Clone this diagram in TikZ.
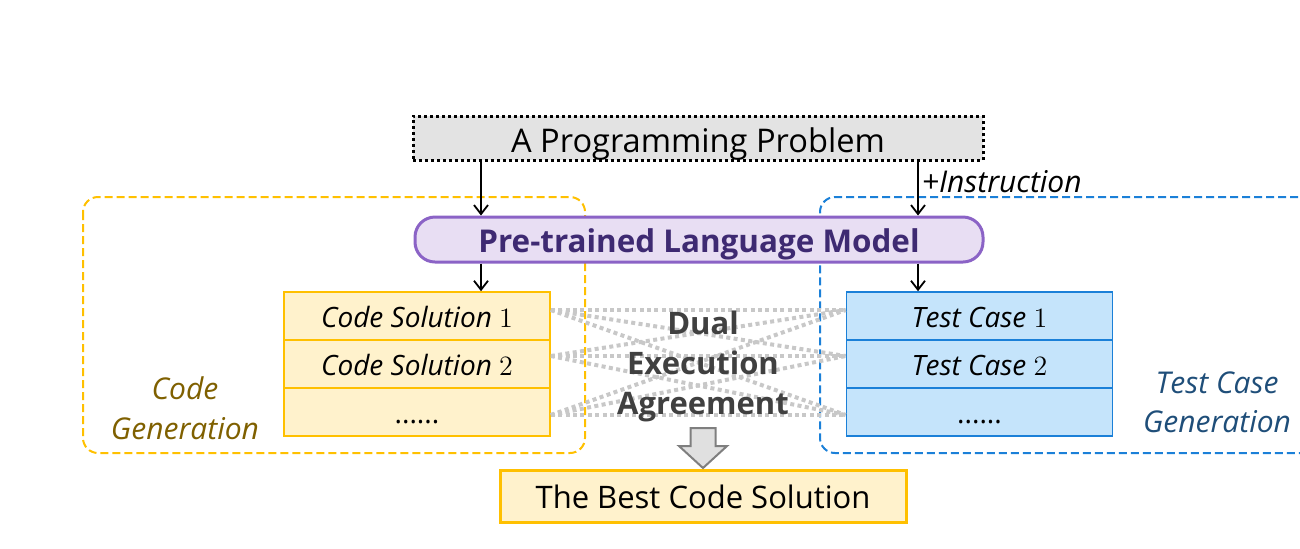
\documentclass[tikz,border=0pt]{standalone}
\usepackage{fontspec}
\setmainfont{Open Sans}
\newfontfamily\numfont{Latin Modern Roman}
\usetikzlibrary{arrows.meta}
\definecolor{probF}{HTML}{E3E3E3}
\definecolor{lmF}{HTML}{E8DEF3}
\definecolor{lmB}{HTML}{8B63C6}
\definecolor{lmT}{HTML}{3E2A72}
\definecolor{codeF}{HTML}{FFF2CC}
\definecolor{codeB}{HTML}{FFC000}
\definecolor{testF}{HTML}{C5E4FB}
\definecolor{testB}{HTML}{1B80D8}
\definecolor{cgT}{HTML}{7F6000}
\definecolor{tgT}{HTML}{1F4E79}
\definecolor{dualT}{HTML}{404040}
\definecolor{dotG}{HTML}{C8C8C8}
\definecolor{barB}{HTML}{7F7F7F}
\definecolor{barF}{HTML}{E0E0E0}
\newcommand{\dg}[1]{{\numfont\upshape #1}}
\begin{document}
\begin{tikzpicture}[x=0.5pt,y=-0.5pt,
  arr/.style={-{Straight Barb[length=4.5pt,width=7pt]}, line width=0.9pt},
  rowbox/.style={line width=0.8pt, minimum width=133pt, minimum height=24pt, inner sep=0pt,
     text height=11pt, text depth=0pt, font=\fontsize{14}{16}\selectfont},
  coderow/.style={rowbox, draw=codeB, fill=codeF},
  testrow/.style={rowbox, draw=testB, fill=testF},
  agreeline/.style={draw=dotG, line width=2pt, dash pattern=on 2pt off 1.7pt},
  region/.style={line width=1pt, dash pattern=on 4pt off 2pt, rounded corners=7.5pt}
]
\useasboundingbox (0,0) rectangle (1300,548);

% regions
\draw[region, draw=codeB] (83,197) rectangle (585,453);
\draw[region, draw=testB] (1310,197) -- (820,197) -- (820,453) -- (1310,453);

% problem
\node[draw=black, fill=probF, line width=1.5pt, dash pattern=on 1.5pt off 1.5pt,
      minimum width=285pt, minimum height=22pt, inner sep=0pt, text height=14pt, text depth=0pt,
      font=\fontsize{16.3}{20}\selectfont] (prob) at (698,138) {A Programming Problem};

% language model
\node[draw=lmB, fill=lmF, line width=1.5pt, rounded corners=10pt,
      minimum width=284pt, minimum height=22.5pt, inner sep=0pt, text height=12.5pt, text depth=0pt,
      text=lmT, font=\fontsize{15.7}{18}\selectfont\bfseries] (lm) at (699,239.5) {Pre-trained Language Model};

% code solutions
\node[coderow] (c1) at (417,316) {\itshape Code Solution \dg{1}};
\node[coderow] (c2) at (417,364) {\itshape Code Solution \dg{2}};
\node[coderow] (c3) at (417,412) {......};

% test cases
\node[testrow] (t1) at (979.5,316) {\itshape Test Case \dg{1}};
\node[testrow] (t2) at (979.5,364) {\itshape Test Case \dg{2}};
\node[testrow] (t3) at (979.5,412) {......};

% column coordinates
\coordinate (ax) at (481,0);
\coordinate (bx) at (918,0);

\draw[arr] (prob.south -| ax) -- (lm.north -| ax);
\draw[arr] (prob.south -| bx) -- node[pos=0.38, anchor=west, inner sep=1.5pt, font=\fontsize{15}{18}\selectfont\itshape] {+Instruction} (lm.north -| bx);
\draw[arr] (lm.south -| ax) -- (c1.north -| ax);
\draw[arr] (lm.south -| bx) -- (t1.north -| bx);

% agreement lines
\foreach \i/\si in {1/3pt,2/4pt,3/-1.5pt}{
  \foreach \j/\sj in {1/3pt,2/4pt,3/-1.5pt}{
    \draw[agreeline] ([yshift=\si]c\i.east) -- ([yshift=\sj]t\j.west);
  }
}

% labels
\node[align=center, text=dualT, font=\fontsize{15.5}{20}\selectfont\bfseries] (dual) at (703,366) {Dual\\Execution\\Agreement};
\node[align=center, text=cgT, font=\fontsize{15}{20}\selectfont\itshape] (cg) at (185,408) {Code\\Generation};
\node[align=center, text=tgT, font=\fontsize{15}{19.5}\selectfont\itshape] (tg) at (1217,402) {Test Case\\Generation};

% best
\node[draw=codeB, fill=codeF, line width=1.5pt, minimum width=203pt, minimum height=26pt, inner sep=0pt,
      text height=12pt, text depth=0pt,
      font=\fontsize{15.5}{18}\selectfont] (best) at (703,496) {The Best Code Solution};

% block arrow
\draw[draw=barB, fill=barF, line width=1pt, line join=miter]
  (690.5,428) -- (715.5,428) -- (715.5,446) -- (727,446) -- (703,468) -- (679,446) -- (690.5,446) -- cycle;
\end{tikzpicture}
\end{document}
